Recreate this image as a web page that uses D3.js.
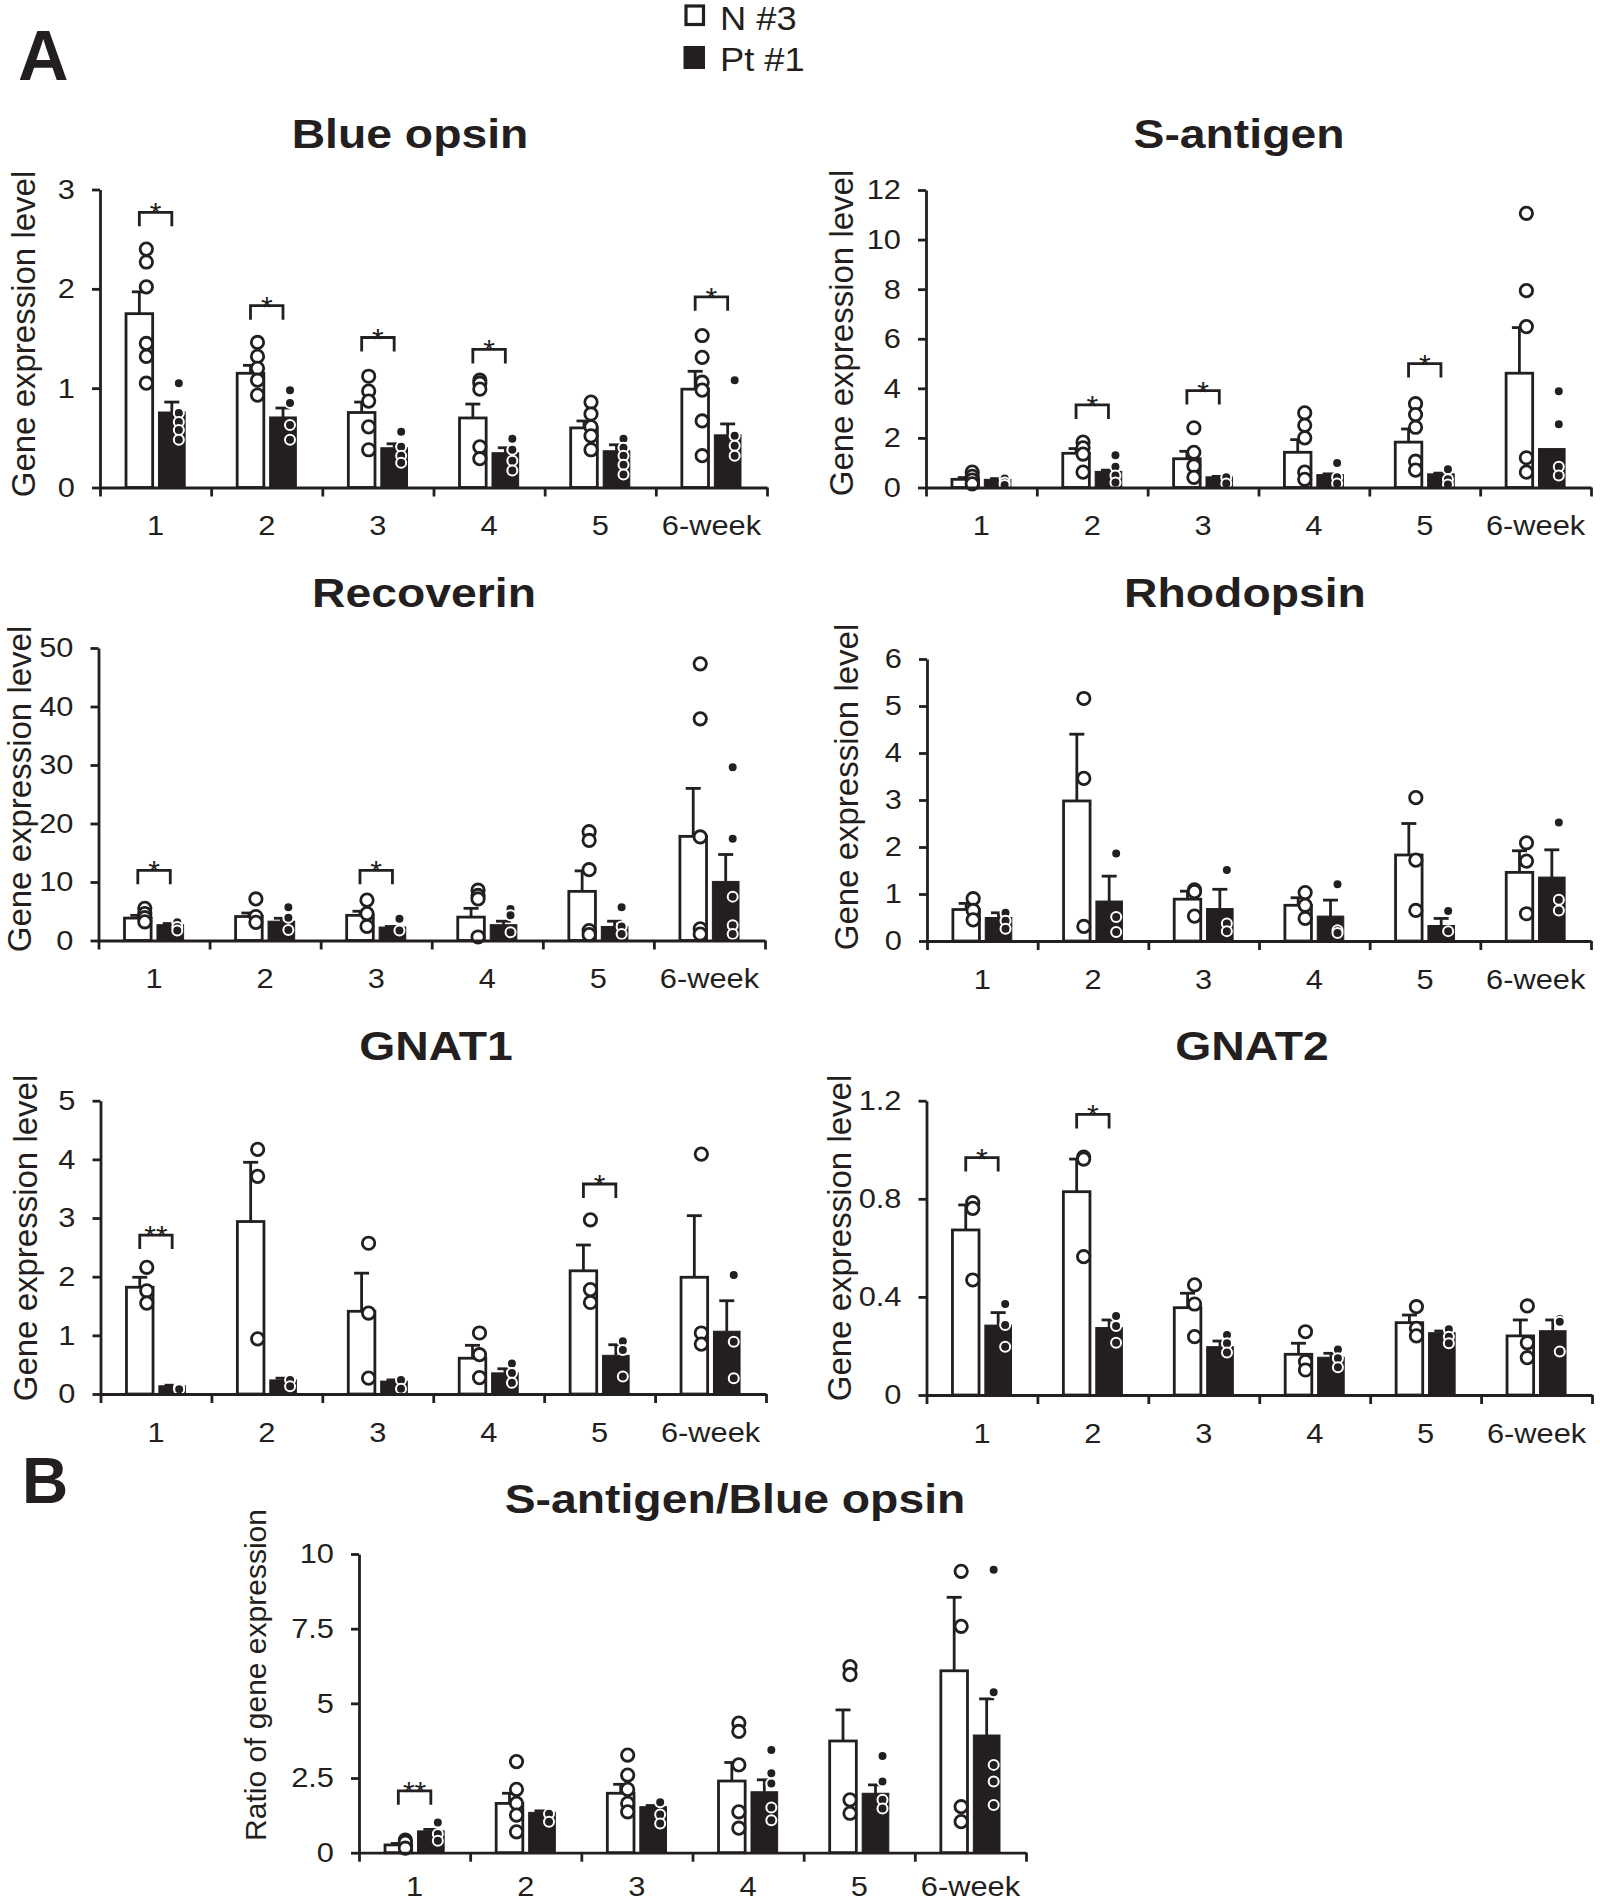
<!DOCTYPE html>
<html><head><meta charset="utf-8">
<script src="https://cdn.jsdelivr.net/npm/d3@7"></script>
<style>
body{margin:0;background:#fff}
svg{display:block}
text{font-family:"Liberation Sans",Arial,Helvetica,sans-serif;fill:#231f20}
</style>
</head><body>
<svg id="c" width="1600" height="1904"></svg>
<script>
// ---------------- DATA ----------------
const categories = ["1","2","3","4","5","6-week"];
const seriesNames = ["N #3","Pt #1"];

// Blue opsin
const blueTicks = [0,1,2,3];
const blueN = [1.75,1.15,0.755,0.70,0.60,0.99];
const blueNsem = [0.22,0.08,0.105,0.14,0.07,0.18];
const bluePt = [0.76,0.71,0.40,0.35,0.37,0.53];
const bluePtsem = [0.10,0.09,0.04,0.05,0.06,0.11];
const blueNpts = [[2.40,2.27,2.02,1.45,1.32,1.05],[1.46,1.32,1.20,1.08,0.93],[1.12,0.97,0.87,0.61,0.38],[1.08,1.05,0.99,0.41,0.29],[0.86,0.74,0.61,0.52,0.38],[1.53,1.31,1.06,0.98,0.67,0.32]];
const bluePtpts = [[1.05,0.75,0.66,0.58,0.48],[0.98,0.85,0.63,0.48],[0.56,0.41,0.32,0.25],[0.49,0.38,0.27,0.17],[0.49,0.40,0.32,0.23,0.13],[1.08,0.52,0.42,0.32]];
const blueSig = [{i:0,v:2.77,t:"*"},{i:1,v:1.83,t:"*"},{i:2,v:1.51,t:"*"},{i:3,v:1.39,t:"*"},{i:5,v:1.92,t:"*"}];

// S-antigen
const santTicks = [0,2,4,6,8,10,12];
const santN = [0.33,1.38,1.16,1.42,1.83,4.61];
const santNsem = [0.07,0.19,0.30,0.51,0.53,1.84];
const santPt = [0.33,0.65,0.43,0.52,0.55,1.57];
const santPtsem = [0.03,0.05,0.02,0.03,0.03,0];
const santNpts = [[0.62,0.45,0.30,0.15],[1.83,1.60,1.35,0.62],[2.41,1.42,0.87,0.41],[3.01,2.51,2.00,0.62,0.33],[3.38,2.94,2.43,1.06,0.70],[11.06,7.94,6.49,1.20,0.62]];
const santPtpts = [[0.36,0.20,0.10],[1.30,0.84,0.48,0.20],[0.41,0.16],[0.99,0.41,0.16],[0.74,0.33,0.12],[3.88,2.55,0.84,0.48]];
const santSig = [{i:1,v:3.33,t:"*"},{i:2,v:3.91,t:"*"},{i:4,v:5.0,t:"*"}];

// Recoverin
const recTicks = [0,10,20,30,40,50];
const recN = [3.83,4.1,4.3,4.0,8.4,17.8];
const recNsem = [0.47,0.6,0.7,1.5,3.5,8.2];
const recPt = [2.7,3.3,2.3,2.7,2.4,10.1];
const recPtsem = [0.2,0.5,0.1,0.6,0.9,4.6];
const recNpts = [[5.5,4.6,3.9,3.2],[7.1,4.1,3.1],[6.9,4.6,2.4],[8.6,7.7,7.1,0.6],[18.6,17.1,12.1,1.7,1.0],[47.3,37.9,17.7,2.0,1.1]];
const recPtpts = [[3.1,2.3,1.7],[5.7,3.9,1.8],[3.7,1.7],[5.4,4.3,1.4],[5.7,2.4,1.1],[29.6,17.4,7.5,2.6,1.1]];
const recSig = [{i:0,v:12.0,t:"*"},{i:2,v:12.0,t:"*"}];

// Rhodopsin
const rhoTicks = [0,1,2,3,4,5,6];
const rhoN = [0.67,2.98,0.89,0.76,1.83,1.46];
const rhoNsem = [0.13,1.42,0.17,0.16,0.67,0.46];
const rhoPt = [0.50,0.85,0.69,0.53,0.33,1.36];
const rhoPtsem = [0.10,0.53,0.41,0.34,0.15,0.58];
const rhoNpts = [[0.90,0.65,0.45],[5.16,3.46,0.31],[1.09,1.05,0.53],[1.03,0.76,0.48],[3.05,1.72,0.65],[2.09,1.70,0.58]];
const rhoPtpts = [[0.60,0.43,0.26],[1.86,0.51,0.19],[1.51,0.37,0.21],[1.21,0.23,0.17],[0.64,0.21],[2.52,0.88,0.65]];
const rhoSig = [];

// GNAT1
const g1Ticks = [0,1,2,3,4,5];
const g1N = [1.82,2.94,1.41,0.61,2.10,1.99];
const g1Nsem = [0.17,1.01,0.65,0.22,0.44,1.05];
const g1Pt = [0.14,0.24,0.22,0.36,0.66,1.07];
const g1Ptsem = [0.01,0.03,0.02,0.07,0.18,0.52];
const g1Npts = [[2.16,1.76,1.55],[4.17,3.71,0.94],[2.57,1.38,0.27],[1.04,0.67,0.28],[2.97,1.78,1.56],[4.09,1.04,0.85]];
const g1Ptpts = [[0.12,0.10,0.08],[0.24,0.13],[0.24,0.09],[0.52,0.36,0.19],[0.90,0.75,0.30],[2.03,0.89,0.27]];
const g1Sig = [{i:0,v:2.71,t:"**"},{i:4,v:3.58,t:"*"}];

// GNAT2
const g2Ticks = [0,0.4,0.8,1.2];
const g2N = [0.673,0.829,0.356,0.166,0.295,0.241];
const g2Nsem = [0.102,0.133,0.059,0.045,0.031,0.065];
const g2Pt = [0.285,0.275,0.197,0.154,0.254,0.262];
const g2Ptsem = [0.051,0.031,0.023,0.016,0.007,0.044];
const g2Npts = [[0.784,0.761,0.469],[0.97,0.962,0.564],[0.449,0.371,0.238],[0.258,0.136,0.102],[0.360,0.272,0.241],[0.363,0.213,0.152]];
const g2Ptpts = [[0.371,0.285,0.197],[0.322,0.281,0.213],[0.245,0.211,0.173],[0.186,0.150,0.113],[0.268,0.238,0.211],[0.31,0.299,0.177]];
const g2Sig = [{i:0,v:0.968,t:"*"},{i:1,v:1.144,t:"*"}];

// S-antigen / Blue opsin ratio
const ratioTicks = [0,2.5,5,7.5,10];
const ratioN = [0.26,1.65,1.99,2.40,3.74,6.09];
const ratioNsem = [0.05,0.34,0.30,0.62,1.04,2.46];
const ratioPt = [0.73,1.35,1.54,2.04,1.99,3.94];
const ratioPtsem = [0.05,0.05,0.04,0.40,0.28,1.21];
const ratioNpts = [[0.42,0.35,0.15],[3.05,2.12,1.65,1.26,0.70],[3.27,2.60,2.12,1.65,1.37],[4.34,4.06,2.94,1.37,0.82],[6.23,5.96,1.77,1.32],[9.42,7.58,1.54,1.04]];
const ratioPtpts = [[1.01,0.63,0.40],[1.30,1.04],[1.69,1.28,0.98],[3.44,2.66,2.32,1.51,1.09],[3.24,2.38,1.77,1.48],[9.47,5.37,2.94,2.38,1.60]];
const ratioSig = [{i:0,v:2.07,t:"**"}];

const titles = ["Blue opsin","S-antigen","Recoverin","Rhodopsin","GNAT1","GNAT2","S-antigen/Blue opsin"];
const yLabels = ["Gene expression level","Gene expression level","Gene expression level","Gene expression level","Gene expression level","Gene expression level","Ratio of gene expression"];

// ---------------- PANELS (built from arrays) ----------------
const panels = [
  {ticks:blueTicks,mN:blueN,sN:blueNsem,mP:bluePt,sP:bluePtsem,pN:blueNpts,pP:bluePtpts,sig:blueSig},
  {ticks:santTicks,mN:santN,sN:santNsem,mP:santPt,sP:santPtsem,pN:santNpts,pP:santPtpts,sig:santSig},
  {ticks:recTicks,mN:recN,sN:recNsem,mP:recPt,sP:recPtsem,pN:recNpts,pP:recPtpts,sig:recSig},
  {ticks:rhoTicks,mN:rhoN,sN:rhoNsem,mP:rhoPt,sP:rhoPtsem,pN:rhoNpts,pP:rhoPtpts,sig:rhoSig},
  {ticks:g1Ticks,mN:g1N,sN:g1Nsem,mP:g1Pt,sP:g1Ptsem,pN:g1Npts,pP:g1Ptpts,sig:g1Sig},
  {ticks:g2Ticks,mN:g2N,sN:g2Nsem,mP:g2Pt,sP:g2Ptsem,pN:g2Npts,pP:g2Ptpts,sig:g2Sig},
  {ticks:ratioTicks,mN:ratioN,sN:ratioNsem,mP:ratioPt,sP:ratioPtsem,pN:ratioNpts,pP:ratioPtpts,sig:ratioSig}
];
panels.forEach((p,k)=>{p.title=titles[k];p.ylab=yLabels[k];});

// layout (pixel geometry)
const layout = [
  {x0:100,  x1:767,  yT:189.5, yB:487.5, tx:410,  ty:148,  lx:35,  ly:334,  lf:33, xp:28},
  {x0:926,  x1:1591, yT:190,   yB:487.5, tx:1239, ty:148,  lx:853, ly:333,  lf:33, xp:28},
  {x0:98.5, x1:765,  yT:648,   yB:940.5, tx:424,  ty:607,  lx:31,  ly:789,  lf:33, xp:28},
  {x0:927,  x1:1591, yT:659,   yB:941,   tx:1245, ty:607,  lx:858, ly:787,  lf:33, xp:28},
  {x0:100.5,x1:766,  yT:1100.7,yB:1394,  tx:436,  ty:1060, lx:37,  ly:1238, lf:33, xp:28},
  {x0:926.5,x1:1592, yT:1100.7,yB:1395,  tx:1252, ty:1060, lx:851, ly:1238, lf:33, xp:28},
  {x0:359,  x1:1026, yT:1554,  yB:1852.7,tx:735,  ty:1513, lx:266, ly:1675, lf:30, xp:23}
];

const INK = "#231f20";
const LW = 2.8;
const SX = 1.1;   // horizontal stretch of the figure's lettering
const svg = d3.select("#c");

function stext(g,x,y,str,size,weight,anchor,sx){
  return g.append("text")
    .attr("transform",`translate(${x},${y}) scale(${sx},1)`)
    .attr("font-size",size).attr("font-weight",weight||"normal")
    .attr("text-anchor",anchor||"start").text(str);
}

function drawPanel(p,L){
  const g = svg.append("g");
  const y = d3.scaleLinear().domain([0,d3.max(p.ticks)]).range([L.yB,L.yT]);
  const x = d3.scaleBand().domain(categories).range([L.x0,L.x1]);
  const bw = x.bandwidth();
  const inner = d3.scaleBand().domain(seriesNames).range([bw*0.234,bw*0.766]).paddingInner(0.18);
  const iw = inner.bandwidth();

  const rows = categories.map((c,i)=>({c,i}));
  const ser = [
    {name:seriesNames[0],m:p.mN,s:p.sN,pts:p.pN},
    {name:seriesNames[1],m:p.mP,s:p.sP,pts:p.pP}
  ];

  // bars
  ser.forEach((S,si)=>{
    g.selectAll(null).data(rows).join("rect")
      .attr("x",d=>x(d.c)+inner(S.name))
      .attr("width",iw)
      .attr("y",d=>y(S.m[d.i]))
      .attr("height",d=>y(0)-y(S.m[d.i]))
      .attr("fill",si===0?"#fff":INK)
      .attr("stroke",INK).attr("stroke-width",si===0?LW:1);
  });
  // error bars
  ser.forEach(S=>{
    rows.filter(d=>S.s[d.i]>0).forEach(d=>{
      const cx = x(d.c)+inner(S.name)+iw/2;
      g.append("line").attr("x1",cx).attr("x2",cx)
        .attr("y1",y(S.m[d.i])).attr("y2",y(S.m[d.i]+S.s[d.i]))
        .attr("stroke",INK).attr("stroke-width",LW);
      g.append("line").attr("x1",cx-7.5).attr("x2",cx+7.5)
        .attr("y1",y(S.m[d.i]+S.s[d.i])).attr("y2",y(S.m[d.i]+S.s[d.i]))
        .attr("stroke",INK).attr("stroke-width",LW);
    });
  });
  // individual points
  ser.forEach((S,si)=>{
    const pts = [];
    rows.forEach(d=>S.pts[d.i].forEach(v=>pts.push({c:d.c,v})));
    g.selectAll(null).data(pts).join("circle")
      .attr("cx",d=>x(d.c)+inner(S.name)+iw/2+7)
      .attr("cy",d=>y(d.v))
      .attr("r",si===0?6.2:5)
      .attr("fill",si===0?"#fff":INK)
      .attr("stroke",si===0?INK:"#fff")
      .attr("stroke-width",si===0?2.8:2);
  });
  // significance brackets
  p.sig.forEach(s=>{
    const c = categories[s.i];
    const xa = x(c)+inner(seriesNames[0])+iw/2;
    const xb = x(c)+inner(seriesNames[1])+iw/2;
    const top = y(s.v);
    g.append("path").attr("d",`M${xa},${top+14}V${top}H${xb}V${top+14}`)
      .attr("fill","none").attr("stroke",INK).attr("stroke-width",LW);
    g.append("text").attr("x",(xa+xb)/2).attr("y",top+11)
      .attr("text-anchor","middle").attr("font-size",30).text(s.t);
  });

  // y axis
  const ya = g.append("g").attr("transform",`translate(${L.x0},0)`)
    .call(d3.axisLeft(y).tickValues(p.ticks).tickFormat(d=>String(d))
      .tickSize(8).tickPadding(17).tickSizeOuter(0));
  ya.selectAll("path,line").attr("stroke",INK).attr("stroke-width",LW);
  ya.selectAll("text").attr("font-size",28).attr("fill",INK)
    .attr("font-family",null)
    .attr("x",-25/SX).attr("transform",`scale(${SX},1)`);

  // x axis: group boundary ticks
  const xb = d3.scaleLinear().domain([0,categories.length]).range([L.x0,L.x1]);
  const xa = g.append("g").attr("transform",`translate(0,${L.yB})`)
    .call(d3.axisBottom(xb).tickValues(d3.range(categories.length+1)).tickFormat("")
      .tickSize(9).tickSizeOuter(0));
  xa.selectAll("path,line").attr("stroke",INK).attr("stroke-width",LW);
  // x axis labels
  const xl = g.append("g").attr("transform",`translate(0,${L.yB})`)
    .call(d3.axisBottom(x).tickSize(0).tickPadding(L.xp));
  xl.select(".domain").remove();
  xl.selectAll("text").attr("font-size",28).attr("fill",INK)
    .attr("font-family",null).attr("transform",`scale(${SX},1)`);

  // title
  stext(g,L.tx,L.ty,p.title,41,"bold","middle",1.13);
  // y label
  g.append("text").attr("transform",`translate(${L.lx},${L.ly}) rotate(-90)`)
    .attr("text-anchor","middle").attr("font-size",L.lf).text(p.ylab);
}

panels.forEach((p,k)=>drawPanel(p,layout[k]));

// panel letters
stext(svg,18,80,"A",70,"bold","start",1);
stext(svg,22,1503,"B",64,"bold","start",1);

// legend
svg.append("rect").attr("x",686).attr("y",6).attr("width",17.5).attr("height",18.5)
  .attr("fill","#fff").attr("stroke",INK).attr("stroke-width",3.2);
svg.append("rect").attr("x",683.5).attr("y",46).attr("width",21.5).attr("height",23)
  .attr("fill",INK);
stext(svg,720,30,seriesNames[0],33,"normal","start",1.1);
stext(svg,720,71,seriesNames[1],33,"normal","start",1.1);
</script>
</body></html>
